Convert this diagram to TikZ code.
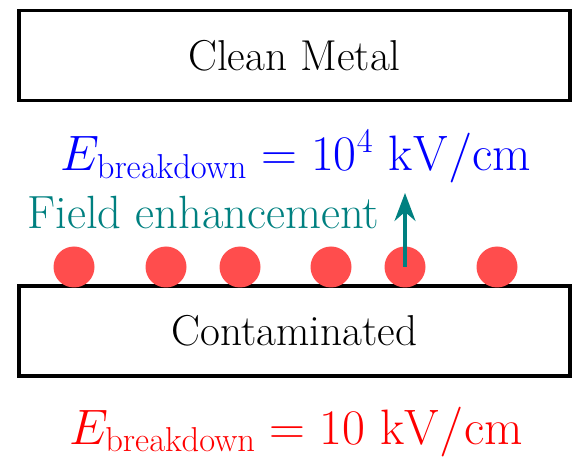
\documentclass[tikz,border=0pt]{standalone}
\usetikzlibrary{arrows.meta}
\definecolor{dotred}{RGB}{255,77,77}
\begin{document}
\begin{tikzpicture}[x=0.5pt,y=-0.5pt,
  metalbox/.style={draw=black,line width=1.8pt,rectangle,minimum width=275.5pt,minimum height=45pt,inner sep=0pt,font=\fontsize{21.6}{26}\selectfont},
  dot/.style={circle,fill=dotred,draw=none,minimum size=20.5pt,inner sep=0pt},
  mathlabel/.style={font=\fontsize{25.2}{30}\selectfont,inner sep=0pt},
  fieldlabel/.style={font=\fontsize{23.3}{28}\selectfont,text=teal,inner sep=0pt}]
\useasboundingbox (0,0) rectangle (587,458);
\node[metalbox] (clean) at (294.5,55.5) {Clean Metal};
\node[metalbox] (cont) at (294.5,331) {Contaminated};
\node[mathlabel,text=blue] (eclean) at (296,157) {$E_{\mathrm{breakdown}} = 10^4~\mathrm{kV/cm}$};
\node[mathlabel,text=red] (econt) at (296,432) {$E_{\mathrm{breakdown}} = 10~\mathrm{kV/cm}$};
\foreach \i/\x in {1/74,2/166,3/240,4/331,5/405,6/497}
  \node[dot] (d\i) at (\x,267) {};
\node[fieldlabel,anchor=west] (field) at (27,213) {Field enhancement};
\coordinate (tip) at (405,193);
\draw[teal,line width=1.7pt,-{Stealth[length=14pt,width=10.5pt]}] (d5.center) -- (tip);
\end{tikzpicture}
\end{document}
